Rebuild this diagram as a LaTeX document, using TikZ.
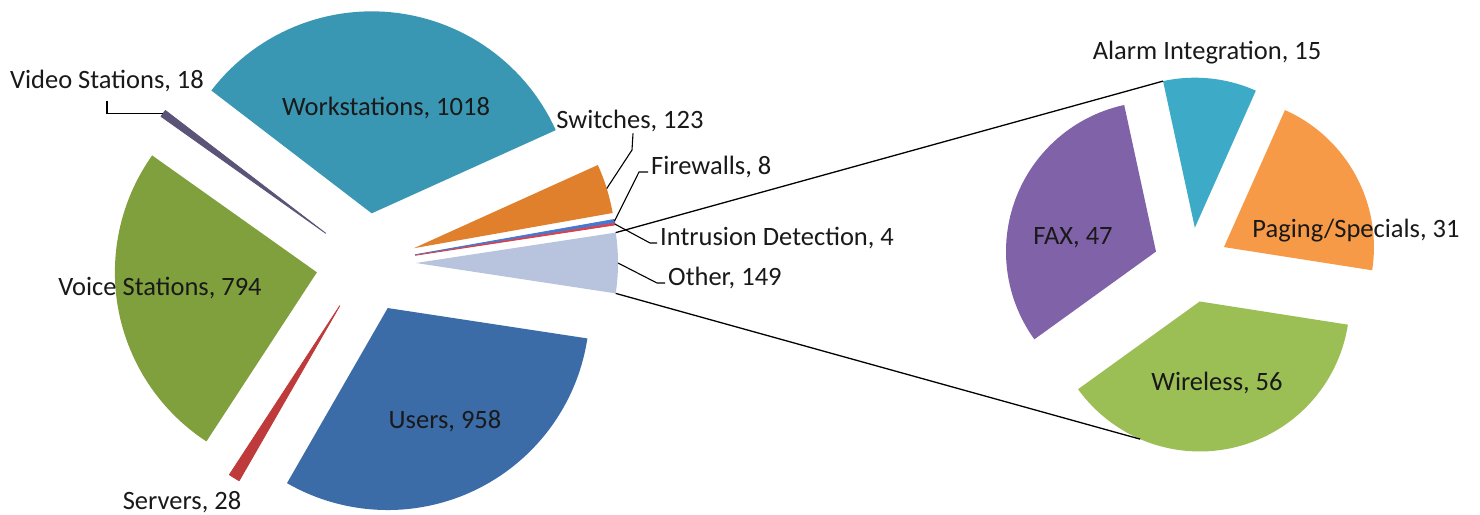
\documentclass[tikz,border=0pt]{standalone}
\usepackage{fontspec}
\setmainfont{Carlito}
\usetikzlibrary{calc}
\definecolor{cWork}{HTML}{3A97B3}
\definecolor{cVoice}{HTML}{80A03E}
\definecolor{cUsers}{HTML}{3B6CA8}
\definecolor{cServ}{HTML}{BF3B3B}
\definecolor{cVideo}{HTML}{5B5478}
\definecolor{cSwitch}{HTML}{E0802C}
\definecolor{cFire}{HTML}{4678CF}
\definecolor{cIntr}{HTML}{D8404A}
\definecolor{cOther}{HTML}{B8C4DD}
\definecolor{cAlarm}{HTML}{3DAAC8}
\definecolor{cPage}{HTML}{F79A48}
\definecolor{cFax}{HTML}{8062A8}
\definecolor{cWire}{HTML}{9CBF55}
% #1 cx, #2 cy, #3 explode, #4 radius, #5 start, #6 end, #7 style, #8 name
\newcommand\myslice[8]{%
 \pgfmathsetmacro\mb{(#5+#6)/2}%
 \pgfmathsetmacro\ax{#1+#3*cos(\mb)}%
 \pgfmathsetmacro\ay{#2+#3*sin(\mb)}%
 \path[#7] (\ax,\ay) -- plot[domain=#5:#6,samples=60,variable=\t] ({\ax+#4*cos(\t)},{\ay+#4*sin(\t)}) -- cycle;
 \coordinate (#8-a) at (\ax,\ay);
 \coordinate (#8-s) at ({\ax+#4*cos(#5)},{\ay+#4*sin(#5)});
 \coordinate (#8-m) at ({\ax+#4*cos(\mb)},{\ay+#4*sin(\mb)});
 \coordinate (#8-e) at ({\ax+#4*cos(#6)},{\ay+#4*sin(#6)});
}
\tikzset{
 lbl/.style={font=\fontsize{26.5}{30}\selectfont, text=black!90, inner sep=3pt, text height=0.7em, text depth=0.15em, yshift=-5pt},
 lead/.style={draw=black, line width=1.1pt},
 conn/.style={draw=black, line width=1.3pt},
 thin slice/.style={fill=#1, draw=#1, line width=0.8pt, line join=round},
}
\begin{document}
\begin{tikzpicture}[x=1pt,y=-1pt]
\useasboundingbox (0,0) rectangle (1480,514);
\fill[white] (0,0) rectangle (1480,514);
% main pie
\myslice{366}{263}{50}{202}{-8.652}{8.652}{fill=cOther}{other}
\myslice{366}{263}{50}{202}{8.652}{119.904}{fill=cUsers}{users}
\myslice{366}{263}{50}{202}{119.904}{123.155}{thin slice=cServ}{serv}
\myslice{366}{263}{50}{202}{123.155}{215.361}{fill=cVoice}{voice}
\myslice{366}{263}{50}{202}{215.361}{217.452}{thin slice=cVideo}{video}
\myslice{366}{263}{50}{202}{217.452}{335.671}{fill=cWork}{work}
\myslice{366}{263}{50}{202}{335.671}{349.955}{fill=cSwitch}{switch}
\myslice{366}{263}{50}{202}{349.955}{350.884}{thin slice=cFire}{fire}
\myslice{366}{263}{50}{202}{350.884}{351.348}{thin slice=cIntr}{intr}
% secondary pie
\myslice{1191}{265}{37.5}{150}{8.9}{144.2}{fill=cWire}{wire}
\myslice{1191}{265}{37.5}{150}{144.2}{257.76}{fill=cFax}{fax}
\myslice{1191}{265}{37.5}{150}{257.76}{294.0}{fill=cAlarm}{alarm}
\myslice{1191}{265}{37.5}{150}{294.0}{368.9}{fill=cPage}{page}
\coordinate (wireP) at ($(wire-a)+(113.4:150)$);
% connectors
\draw[conn] (other-s) -- (alarm-s);
\draw[conn] (other-e) -- (wireP);
% labels
\node[lbl] (tWork) at (386,108) {Workstations, 1018};
\node[lbl] (tVideo) at (107,81) {Video Stations, 18};
\node[lbl] (tVoice) at (160,288) {Voice Stations, 794};
\node[lbl] (tUsers) at (445,421) {Users, 958};
\node[lbl] (tServ) at (182,502) {Servers, 28};
\node[lbl] (tSwitch) at (630,121) {Switches, 123};
\node[lbl, anchor=west] (tFire) at (648,167) {Firewalls, 8};
\node[lbl, anchor=west] (tIntr) at (657,238) {Intrusion Detection, 4};
\node[lbl, anchor=west] (tOther) at (665,278) {Other, 149};
\node[lbl] (tAlarm) at (1207,52) {Alarm Integration, 15};
\node[lbl] (tFax) at (1073,237) {FAX, 47};
\node[lbl] (tPage) at (1356,230) {Paging/Specials, 31};
\node[lbl] (tWire) at (1217,383) {Wireless, 56};
% leaders
\coordinate (swK) at (632,150);
\coordinate (fwK) at (639,172);
\coordinate (inK) at (650,243);
\coordinate (otK) at (657,283);
\draw[lead, shorten <=8pt] (tVideo.south) |- (video-m);
\draw[lead] ([xshift=3pt]tSwitch.south) -- (swK) -- (switch-m);
\draw[lead] (tFire.west) -- (fwK) -- (fire-m);
\draw[lead] (tIntr.west) -- (inK) -- (intr-m);
\draw[lead] (tOther.west) -- (otK) -- (other-m);
\end{tikzpicture}
\end{document}
